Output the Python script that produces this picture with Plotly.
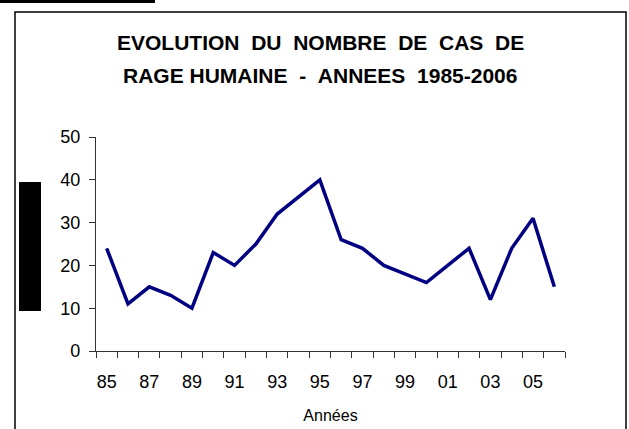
import plotly.graph_objects as go

years = ["85", "86", "87", "88", "89", "90", "91", "92", "93", "94", "95",
         "96", "97", "98", "99", "00", "01", "02", "03", "04", "05", "06"]
cases = [24, 11, 15, 13, 10, 23, 20, 25, 32, 36, 40,
         26, 24, 20, 18, 16, 20, 24, 12, 24, 31, 15]
tick_labels = ["85", "87", "89", "91", "93", "95", "97", "99", "01", "03", "05"]
y_ticks = [0, 10, 20, 30, 40, 50]

title_line1 = "EVOLUTION  DU  NOMBRE  DE  CAS  DE"
title_line2 = "RAGE HUMAINE  -  ANNEES  1985-2006"
x_title = "Années"

W, H = 629, 429
L, R, T, B = 96, 64, 137, 78
pw, ph = W - L - R, H - T - B


def px(x):
    return (x - L) / pw


def py(y):
    return (H - B - y) / ph


idx = list(range(len(years)))
tick_pos = [years.index(t) for t in tick_labels]

FONT = "Liberation Sans, Arial, sans-serif"

fig = go.Figure()
fig.add_trace(go.Scatter(x=idx, y=cases, mode="lines",
                         line=dict(color="#000080", width=3.5),
                         hoverinfo="skip", showlegend=False))

axis_color = "#333333"
fig.update_layout(
    width=W, height=H,
    margin=dict(l=L, r=R, t=T, b=B, pad=0),
    paper_bgcolor="white", plot_bgcolor="white",
    font=dict(family=FONT, color="black", size=18),
    xaxis=dict(range=[-0.5, len(years) - 0.5], tickvals=tick_pos, ticktext=tick_labels,
               ticks="", showgrid=False, zeroline=False, showline=True,
               linecolor=axis_color, linewidth=1.2, automargin=False,
               tickfont=dict(size=18), ticklabelstandoff=14,
               minor=dict(tick0=-0.5, dtick=1, ticks="outside", ticklen=6,
                          tickcolor=axis_color, tickwidth=1.2, showgrid=False),
               title=dict(text=x_title, font=dict(size=16), standoff=19),
               fixedrange=True),
    yaxis=dict(range=[0, 50], tickvals=y_ticks, ticks="outside", ticklen=6,
               tickcolor=axis_color, tickwidth=1.2, showgrid=False, zeroline=False,
               showline=True, linecolor=axis_color, linewidth=1.2, automargin=False,
               tickfont=dict(size=18), ticklabelstandoff=5, fixedrange=True),
)

# title as two text lines
for txt, yy in ((title_line1, 42), (title_line2, 75)):
    fig.add_annotation(text="<b>" + txt.replace(" ", "\u00a0") + "</b>",
                       xref="paper", yref="paper",
                       x=px(320), y=py(yy), showarrow=False,
                       xanchor="center", yanchor="middle",
                       font=dict(size=21, family=FONT, color="black"))

# frame (left, top, right sides)
fig.add_shape(type="path", xref="paper", yref="paper",
              path=f"M {px(15)},{py(440)} L {px(15)},{py(12)} L {px(626)},{py(12)} L {px(626)},{py(440)}",
              line=dict(color="black", width=1.5))
# underline at the top
fig.add_shape(type="line", xref="paper", yref="paper",
              x0=px(0), x1=px(155), y0=py(1.5), y1=py(1.5),
              line=dict(color="black", width=3))
# black bar on the left
fig.add_shape(type="rect", xref="paper", yref="paper",
              x0=px(19), x1=px(41), y0=py(311), y1=py(182),
              fillcolor="black", line=dict(width=0))

fig.write_html("out.html", config={"displayModeBar": False},
               post_script="document.body.style.margin='0';document.body.style.overflow='hidden';")
